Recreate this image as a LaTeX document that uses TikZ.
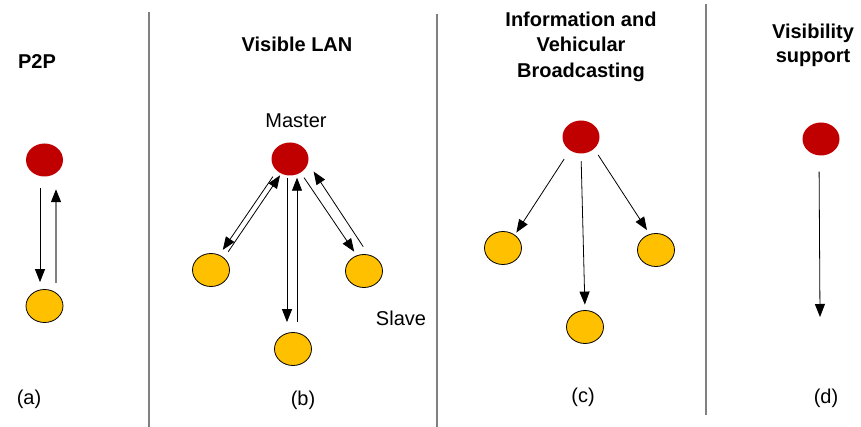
\documentclass[tikz,border=0pt]{standalone}
\usepackage{fontspec}
\setmainfont{Liberation Sans}
\usetikzlibrary{arrows.meta,shapes.geometric}
\definecolor{ink}{HTML}{000000}
\definecolor{sepgrey}{HTML}{808080}
\definecolor{mastred}{HTML}{C00000}
\definecolor{slaveyel}{HTML}{FFC000}
\newcommand{\mst}[2]{%
  \node[ellipse,fill=mastred,inner sep=0pt,
        minimum width=37pt,minimum height=33pt] (#1) at #2 {};}
\newcommand{\slv}[2]{%
  \node[ellipse,fill=slaveyel,draw=ink,line width=0.8pt,inner sep=0pt,
        minimum width=37pt,minimum height=33pt] (#1) at #2 {};}

\begin{document}
\begin{tikzpicture}[x=1pt,y=-1pt]
  \useasboundingbox (0,0) rectangle (861,427);

  % Panel separators
  \begin{scope}[sepgrey,line width=1.5pt]
    \draw (149,12) -- (149,427);
    \draw (437,14) -- (437,427);
    \draw (706,4) -- (706,415);
  \end{scope}

  % Titles
  \node[font=\fontsize{20}{22}\selectfont\bfseries] (ttla) at (37,62) {P2P};
  \node[font=\fontsize{20}{22}\selectfont\bfseries] (ttlb) at (297,44) {Visible LAN};
  \node[font=\fontsize{20}{25.5}\selectfont\bfseries,align=center,inner sep=0pt]
       (ttlc) at (581,46.5) {Information and\\Vehicular\\Broadcasting};
  \node[font=\fontsize{20}{24.5}\selectfont\bfseries,align=center,inner sep=0pt]
       (ttld) at (813,45.5) {Visibility\\support};

  % (a) P2P
  \mst{ma}{(44.5,160)}
  \slv{sa}{(44.5,306)}
  % (b) Visible LAN
  \mst{mb}{(290,159)}
  \slv{lb}{(211,270)}
  \slv{bb}{(293,349)}
  \slv{rb}{(364,271)}
  \node[font=\fontsize{20}{22}\selectfont] (mastlbl) at (296,121) {Master};
  \node[font=\fontsize{20}{22}\selectfont] (slavelbl) at (401,318) {Slave};
  % (c) Broadcasting
  \mst{mc}{(581,137)}
  \slv{lc}{(503,248)}
  \slv{bc}{(585,327)}
  \slv{rc}{(656,250)}
  % (d) Visibility support
  \mst{md}{(821,139)}
  \coordinate (dend) at (820,317);

  \begin{scope}[-{Triangle[length=13pt,width=10pt]},ink,line width=0.8pt]
    \draw[shorten <=11.5pt,shorten >=7pt] ([xshift=-4.5pt]ma.south) -- ([xshift=-4.5pt]sa.north);
    \draw[sepgrey,line width=1.3pt,-{Triangle[length=13pt,width=10pt,color=ink]},
          shorten <=6pt,shorten >=12.5pt] ([xshift=11.5pt]sa.north) -- ([xshift=11.5pt]ma.south);
    \draw[shorten <=7pt,shorten >=6pt] (mb.222) -- (lb.61);
    \draw[shorten <=7.3pt,shorten >=2pt] (lb.43.5) -- (mb.239.5);
    \draw[shorten <=2pt,shorten >=10pt] ([xshift=-3pt]mb.south) -- ([xshift=-6pt]bb.north);
    \draw[shorten <=10pt,shorten >=2pt] ([xshift=4pt]bb.north) -- ([xshift=7pt]mb.south);
    \draw[shorten <=6pt,shorten >=4.5pt] (mb.308) -- (rb.115);
    \draw[shorten <=9.5pt,shorten >=10pt] (rb.75) -- (mb.347);
    \draw[shorten <=10.4pt,shorten >=2.7pt] (mc.230) -- (lc.48);
    \draw[shorten <=7.5pt,shorten >=5.5pt] (mc.south) -- (bc.north);
    \draw[shorten <=7.2pt,shorten >=4.8pt] (mc.318) -- (rc.112);
    \draw[shorten <=16pt] ([xshift=-2pt]md.south) -- (dend);
  \end{scope}

  % Sub-figure tags
  \node[font=\fontsize{20}{22}\selectfont] (taga) at (29,399) {(a)};
  \node[font=\fontsize{20}{22}\selectfont] (tagb) at (303,400) {(b)};
  \node[font=\fontsize{20}{22}\selectfont] (tagc) at (583,397) {(c)};
  \node[font=\fontsize{20}{22}\selectfont] (tagd) at (826,398) {(d)};
\end{tikzpicture}
\end{document}
